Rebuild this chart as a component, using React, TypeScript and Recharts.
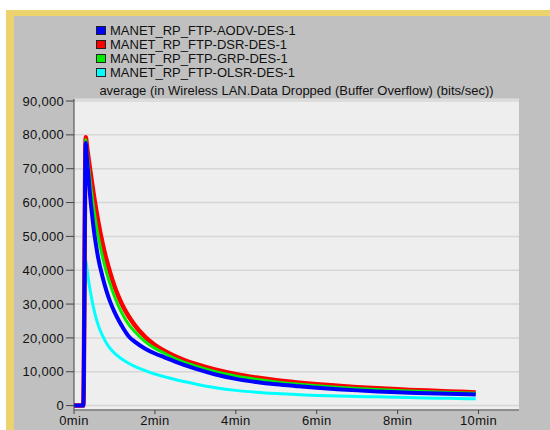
import { LineChart, Line, XAxis, YAxis, CartesianGrid } from "recharts";

// time in minutes
const times = [0, 0.23, 0.29, 0.32, 0.35, 0.4, 0.45, 0.5, 0.55, 0.6, 0.7, 0.8, 0.9, 1.0, 1.1, 1.2, 1.35, 1.5, 1.75, 2.0, 2.25, 2.5, 3.0, 3.5, 4.0, 4.5, 5.0, 5.5, 6.0, 6.5, 7.0, 7.5, 8.0, 8.5, 9.0, 9.5, 9.93];

const aodv = [0, 0, 77600, 73000, 68800, 61800, 56000, 51000, 47000, 43500, 38300, 34000, 30500, 27700, 25300, 23200, 20500, 18900, 16900, 15400, 14200, 13000, 10900, 9200, 7900, 7000, 6300, 5750, 5250, 4850, 4500, 4200, 3950, 3750, 3550, 3400, 3300];
const dsr = [0, 0, 79300, 76500, 73800, 69500, 65300, 61300, 57600, 54200, 48200, 43200, 39000, 35300, 32200, 29600, 26400, 23800, 20400, 17900, 16100, 14600, 12300, 10600, 9300, 8300, 7500, 6850, 6300, 5850, 5450, 5100, 4800, 4550, 4300, 4100, 3900];
const grp = [0, 0, 78600, 75100, 71800, 66400, 61600, 57200, 53400, 49900, 44200, 39500, 35600, 32300, 29400, 27000, 24000, 21900, 19000, 16900, 15400, 13900, 11700, 10000, 8750, 7800, 7000, 6400, 5900, 5450, 5050, 4750, 4450, 4250, 4000, 3800, 3650];
const olsr = [0, 0, 43000, 40500, 37800, 34000, 30800, 28000, 25700, 23700, 20800, 18500, 16800, 15500, 14500, 13600, 12500, 11600, 10400, 9300, 8500, 7700, 6400, 5300, 4500, 3950, 3550, 3250, 3000, 2850, 2700, 2600, 2450, 2300, 2200, 2100, 2000];

const xTicks = [0, 2, 4, 6, 8, 10];
const yTicks = [0, 10000, 20000, 30000, 40000, 50000, 60000, 70000, 80000, 90000];

const legendItems = [
  { name: "MANET_RP_FTP-AODV-DES-1", color: "#0000FF" },
  { name: "MANET_RP_FTP-DSR-DES-1", color: "#FF0000" },
  { name: "MANET_RP_FTP-GRP-DES-1", color: "#00EE00" },
  { name: "MANET_RP_FTP-OLSR-DES-1", color: "#00FFFF" },
];

const title = "average (in Wireless LAN.Data Dropped (Buffer Overflow) (bits/sec))";

const data = times.map((t, i) => ({ t, aodv: aodv[i], dsr: dsr[i], grp: grp[i], olsr: olsr[i] }));

const font = "'Liberation Sans', Arial, sans-serif";
const tickStyle = { fill: "#111", fontSize: 13, fontFamily: font, letterSpacing: 0.3 };

export default function App() {
  return (
    <div style={{ position: "absolute", left: 0, top: 0, width: 550, height: 430, background: "#fff", fontFamily: font, overflow: "hidden" }}>
      {/* yellow frame + gray panel */}
      <div style={{ position: "absolute", left: 6, top: 10, right: 0, bottom: 0, background: "#EDD36E" }} />
      <div style={{ position: "absolute", left: 14, top: 16, right: 0, bottom: 0, background: "#C0C0C0" }} />

      <div style={{ position: "absolute", left: 96, top: 23 }}>
        {legendItems.map((it) => (
          <div key={it.name} style={{ display: "flex", alignItems: "center", height: 14, fontSize: 13, color: "#111" }}>
            <span style={{ display: "inline-block", width: 8, height: 7, background: it.color, border: "1px solid #222", marginRight: 4 }} />
            {it.name}
          </div>
        ))}
      </div>

      <div style={{ position: "absolute", left: 74, top: 83, width: 445, textAlign: "center", fontSize: 13, lineHeight: "16px", color: "#111", whiteSpace: "nowrap" }}>
        {title}
      </div>

      <div style={{ position: "absolute", left: 0, top: 0 }}>
        <LineChart width={550} height={430} data={data} margin={{ top: 99, right: 31, bottom: 0, left: 0 }}>
          <CartesianGrid vertical={false} fill="#EEEEEE" stroke="#D6D6D6" strokeWidth={1.5} />
          <XAxis
            dataKey="t"
            type="number"
            domain={[0, 11]}
            ticks={xTicks}
            tickFormatter={(v) => `${v}min`}
            height={20}
            tickSize={4}
            stroke="#444"
            tick={tickStyle}
          />
          <XAxis xAxisId="top" orientation="top" type="number" domain={[0, 11]} height={0} tick={false} tickLine={false} stroke="#555" />
          <YAxis
            type="number"
            domain={[-1300, 90600]}
            ticks={yTicks}
            allowDataOverflow
            width={74}
            tickSize={8}
            tickMargin={2}
            stroke="#444"
            tickFormatter={(v) => v.toLocaleString("en-US")}
            tick={tickStyle}
          />
          <YAxis yAxisId="right" orientation="right" width={0} tick={false} tickLine={false} stroke="#555" />
          <Line dataKey="olsr" type="monotone" stroke="#00FFFF" strokeWidth={3} dot={false} activeDot={false} isAnimationActive={false} />
          <Line dataKey="dsr" type="monotone" stroke="#FF0000" strokeWidth={4.5} dot={false} activeDot={false} isAnimationActive={false} />
          <Line dataKey="grp" type="monotone" stroke="#00EE00" strokeWidth={3} dot={false} activeDot={false} isAnimationActive={false} />
          <Line dataKey="aodv" type="monotone" stroke="#0000FF" strokeWidth={4} dot={false} activeDot={false} isAnimationActive={false} />
        </LineChart>
      </div>
    </div>
  );
}
